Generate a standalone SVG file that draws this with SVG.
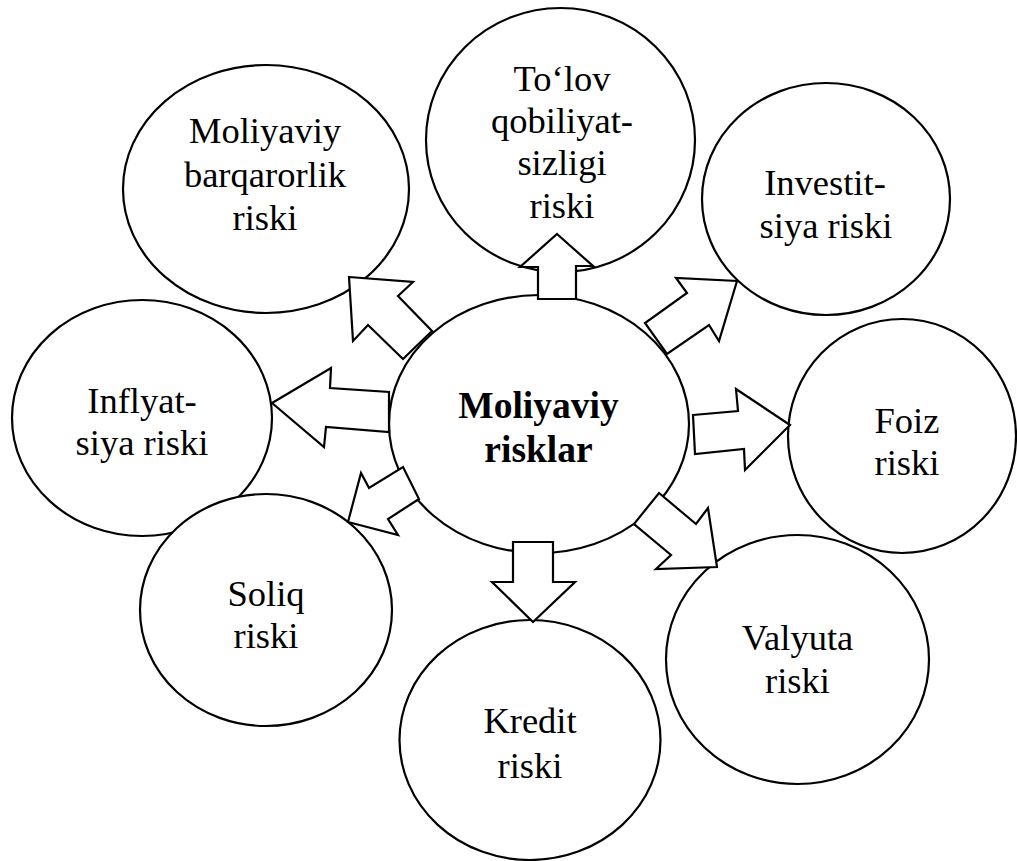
<svg xmlns="http://www.w3.org/2000/svg" width="1017" height="861" viewBox="0 0 1017 861">
  <style>
    .node ellipse { fill: #ffffff; stroke: #000000; stroke-width: 2.2; }
    .node text { font-family: "Liberation Serif", "Times New Roman", serif; font-size: 36.5px; text-anchor: middle; fill: #000000; }
    .node text.bold { font-weight: bold; font-size: 37.5px; }
    .arrow { fill: #ffffff; stroke: #000000; stroke-width: 2.2; stroke-linejoin: miter; }
  </style>
  <rect width="1017" height="861" fill="#ffffff"/>

  <!-- outer risk nodes -->
  <g id="node-barqarorlik" class="node">
    <ellipse cx="266" cy="189" rx="143" ry="124"/>
    <text x="265" y="143">Moliyaviy</text>
    <text x="265" y="187">barqarorlik</text>
    <text x="265" y="230">riski</text>
  </g>
  <g id="node-tolov" class="node">
    <ellipse cx="560.5" cy="140" rx="134.5" ry="132"/>
    <text x="562" y="91">To‘lov</text>
    <text x="562" y="133">qobiliyat-</text>
    <text x="562" y="175">sizligi</text>
    <text x="562" y="218">riski</text>
  </g>
  <g id="node-investitsiya" class="node">
    <ellipse cx="826" cy="199" rx="124" ry="116"/>
    <text x="825" y="195">Investit-</text>
    <text x="826" y="238">siya riski</text>
  </g>
  <g id="node-inflyatsiya" class="node">
    <ellipse cx="142" cy="418" rx="130" ry="118"/>
    <text x="142" y="413">Inflyat-</text>
    <text x="142" y="455">siya riski</text>
  </g>
  <g id="node-foiz" class="node">
    <ellipse cx="902" cy="436" rx="114" ry="117"/>
    <text x="907" y="433">Foiz</text>
    <text x="907" y="475">riski</text>
  </g>
  <g id="node-soliq" class="node">
    <ellipse cx="266" cy="610" rx="126" ry="116"/>
    <text x="266" y="606">Soliq</text>
    <text x="266" y="648">riski</text>
  </g>
  <g id="node-kredit" class="node">
    <ellipse cx="530" cy="740" rx="130.5" ry="120"/>
    <text x="530" y="733">Kredit</text>
    <text x="530" y="778">riski</text>
  </g>
  <g id="node-valyuta" class="node">
    <ellipse cx="797.5" cy="659.5" rx="131.5" ry="124.5"/>
    <text x="797.5" y="650">Valyuta</text>
    <text x="797.5" y="693">riski</text>
  </g>

  <!-- central node -->
  <g id="node-moliyaviy-risklar" class="node">
    <ellipse cx="539" cy="424" rx="150" ry="129"/>
    <text class="bold" x="538.5" y="418">Moliyaviy</text>
    <text class="bold" x="538.5" y="462">risklar</text>
  </g>

  <!-- block arrows from the centre outwards -->
  <g id="connectors">
    <polygon class="arrow" points="349,277 413,282 398,296 432,331 403,359 368,325 353,341"/>
    <polygon class="arrow" points="557,234 593,266 576,266 576,299 538,299 538,267 520,267"/>
    <polygon class="arrow" points="737,281 719,341 709,325 667,354 645,323 687,293 676,278"/>
    <polygon class="arrow" points="272,403 331,368 330,388 389,392 389,432 326,427 324,447"/>
    <polygon class="arrow" points="693,415 738,411 736,389 790,425 745,470 744,449 695,454"/>
    <polygon class="arrow" points="348,522 361,473 369,488 403,467 419,499 388,519 398,535"/>
    <polygon class="arrow" points="659,493 696,524 708,508 717,567 656,569 671,555 634,524"/>
    <polygon class="arrow" points="513,542 553,542 553,582 575,582 533,622 492,582 513,582"/>
  </g>
</svg>
